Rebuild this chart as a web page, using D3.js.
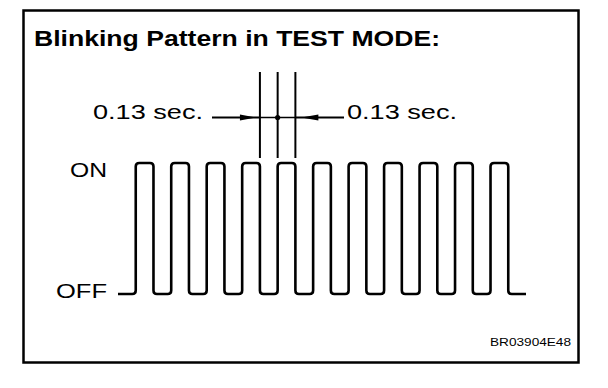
<!DOCTYPE html>
<html>
<head>
<meta charset="utf-8">
<script src="https://cdn.jsdelivr.net/npm/d3@7"></script>
<style>
  html, body { margin: 0; padding: 0; background: #fff; }
  svg { display: block; }
  text { font-family: "Liberation Sans", Arial, sans-serif; fill: #000; }
</style>
</head>
<body>
<svg id="chart" width="608" height="388"></svg>
<script>
// Lamp state for each consecutive segment of the blink signal
const segmentLevels = ["OFF",
  "ON", "OFF", "ON", "OFF", "ON", "OFF", "ON", "OFF", "ON", "OFF", "ON",
  "OFF", "ON", "OFF", "ON", "OFF", "ON", "OFF", "ON", "OFF", "ON",
  "OFF"];
// Duration of each segment, seconds
const segmentSeconds = [0.13,
  0.13, 0.13, 0.13, 0.13, 0.13, 0.13, 0.13, 0.13, 0.13, 0.13, 0.13,
  0.13, 0.13, 0.13, 0.13, 0.13, 0.13, 0.13, 0.13, 0.13, 0.13,
  0.13];
const levelLabels = ["ON", "OFF"];
const titleText = "Blinking Pattern in TEST MODE:";
const intervalLabel = "0.13 sec.";
const figureCode = "BR03904E48";
// Segments whose edges are dimensioned (5th ON pulse and the OFF gap before it)
const dimensionSegments = [8, 9];

const svg = d3.select("#chart");

// Segment start/end times
let acc = 0;
const segments = segmentLevels.map((lvl, i) => {
  const s = { level: lvl, t0: acc, t1: acc + segmentSeconds[i] };
  acc += segmentSeconds[i];
  return s;
});
const totalTime = acc;

const x = d3.scaleLinear().domain([0, totalTime]).range([118, 526]);
const y = d3.scalePoint().domain(levelLabels).range([163, 294]);

// Wide-set lettering: fix each label to its drawn width
function label(tx, ty, size, width, str, weight, anchor) {
  return svg.append("text")
    .attr("x", tx).attr("y", ty)
    .attr("font-size", size)
    .attr("font-weight", weight || "normal")
    .attr("text-anchor", anchor || "start")
    .attr("textLength", width)
    .attr("lengthAdjust", "spacingAndGlyphs")
    .text(str);
}

// Frame
svg.append("rect")
  .attr("x", 23.5).attr("y", 10.5)
  .attr("width", 555).attr("height", 352)
  .attr("fill", "none").attr("stroke", "#000").attr("stroke-width", 2.5);

// Title
label(34, 46, 22, 406, titleText, "bold");

// Waveform vertices
const pts = [];
segments.forEach(s => {
  pts.push([x(s.t0), y(s.level)]);
  pts.push([x(s.t1), y(s.level)]);
});

// Path with softly rounded corners
function roundedPath(points, r) {
  const p = d3.path();
  p.moveTo(points[0][0], points[0][1]);
  for (let i = 1; i < points.length - 1; i++) {
    const [px, py] = points[i - 1], [cx, cy] = points[i], [nx, ny] = points[i + 1];
    const d1 = Math.hypot(cx - px, cy - py), d2 = Math.hypot(nx - cx, ny - cy);
    if (d1 === 0 || d2 === 0) continue;
    const r1 = Math.min(r, d1 / 2), r2 = Math.min(r, d2 / 2);
    p.lineTo(cx - (cx - px) / d1 * r1, cy - (cy - py) / d1 * r1);
    p.quadraticCurveTo(cx, cy, cx + (nx - cx) / d2 * r2, cy + (ny - cy) / d2 * r2);
  }
  const last = points[points.length - 1];
  p.lineTo(last[0], last[1]);
  return p.toString();
}

svg.append("path")
  .attr("d", roundedPath(pts, 3.5))
  .attr("fill", "none").attr("stroke", "#000")
  .attr("stroke-width", 2.6).attr("stroke-linejoin", "round");

// Level labels
label(70, 177, 19.5, 37, levelLabels[0]);
label(56, 298, 20, 51, levelLabels[1]);

// Dimension lines for the 0.13 sec intervals
const edgeTimes = [segments[dimensionSegments[0]].t0,
                   segments[dimensionSegments[1]].t0,
                   segments[dimensionSegments[1]].t1];
const dimY = 117.5;
svg.selectAll("line.ext").data(edgeTimes).join("line")
  .attr("class", "ext")
  .attr("x1", d => x(d)).attr("x2", d => x(d))
  .attr("y1", 72).attr("y2", 158)
  .attr("stroke", "#000").attr("stroke-width", 2);

// Leader lines
svg.append("line")
  .attr("x1", 212).attr("x2", x(edgeTimes[0])).attr("y1", dimY).attr("y2", dimY)
  .attr("stroke", "#000").attr("stroke-width", 2);
svg.append("line")
  .attr("x1", x(edgeTimes[0])).attr("x2", x(edgeTimes[2])).attr("y1", dimY).attr("y2", dimY)
  .attr("stroke", "#000").attr("stroke-width", 1.6);
svg.append("line")
  .attr("x1", x(edgeTimes[2])).attr("x2", 344).attr("y1", dimY).attr("y2", dimY)
  .attr("stroke", "#000").attr("stroke-width", 2);

// Arrowheads pointing at the outer edges
const ax0 = x(edgeTimes[0]), ax2 = x(edgeTimes[2]);
svg.append("path")
  .attr("d", `M${ax0 - 20},${dimY - 3} L${ax0 - 4},${dimY} L${ax0 - 20},${dimY + 3} Z`)
  .attr("fill", "#000");
svg.append("path")
  .attr("d", `M${ax2 + 23},${dimY - 3} L${ax2 + 6},${dimY} L${ax2 + 23},${dimY + 3} Z`)
  .attr("fill", "#000");
// Centre dot on the middle edge
svg.append("circle")
  .attr("cx", x(edgeTimes[1])).attr("cy", dimY).attr("r", 2.6).attr("fill", "#000");

// Interval labels
label(93, 119, 21, 110, intervalLabel);
label(347, 119, 21, 110, intervalLabel);

// Figure code
label(490, 345.5, 10.2, 81, figureCode);
</script>
</body>
</html>
